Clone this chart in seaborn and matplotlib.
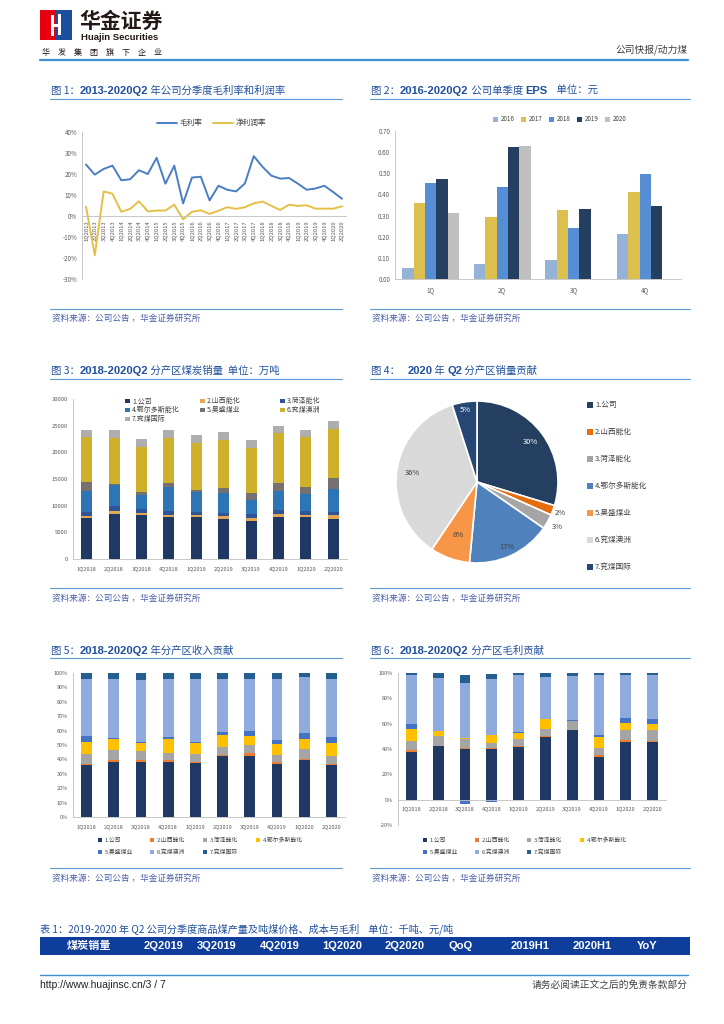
import numpy as np
import pandas as pd
import matplotlib
matplotlib.use('Agg')
import matplotlib.pyplot as plt
import seaborn as sns
from matplotlib.patches import Rectangle
from matplotlib.lines import Line2D

W, H = 724, 1024
CJK = 'Noto Sans CJK SC'
LATIN = 'Liberation Sans'
BLUE = '#1F4F9F'
LINE_BLUE = '#5B9BD5'

# ---- data: 图1 毛利率 / 净利润率 (%)
quarters_13 = ['1Q2013', '2Q2013', '3Q2013', '4Q2013', '1Q2014', '2Q2014', '3Q2014', '4Q2014',
               '1Q2015', '2Q2015', '3Q2015', '4Q2015', '1Q2016', '2Q2016', '3Q2016', '4Q2016',
               '1Q2017', '2Q2017', '3Q2017', '4Q2017', '1Q2018', '2Q2018', '3Q2018', '4Q2018',
               '1Q2019', '2Q2019', '3Q2019', '4Q2019', '1Q2020', '2Q2020']
gross_margin = [24.5, 19.7, 22.4, 24.0, 17.0, 17.5, 21.8, 20.0, 27.7, 15.4, 24.0, 6.0, 18.3, 18.7, 7.4,
                14.4, 12.5, 11.7, 15.5, 28.5, 23.4, 19.2, 17.8, 18.1, 15.4, 12.5, 13.1, 14.4, 11.4, 8.2]
net_margin = [4.5, -18.7, 11.7, 10.6, 2.0, 3.4, 7.0, 2.2, 2.6, 2.6, 5.4, -1.6, 2.0, 2.7, 1.0,
              2.5, 4.2, 3.4, 4.2, 6.0, 6.9, 4.8, 2.9, 5.4, 4.8, 5.1, 3.5, 3.5, 3.5, 4.6]

# ---- data: 图2 单季度EPS (元)
eps_quarters = ['1Q', '2Q', '3Q', '4Q']
eps_years = ['2016', '2017', '2018', '2019', '2020']
eps_2016 = [0.05, 0.07, 0.09, 0.215]
eps_2017 = [0.36, 0.295, 0.325, 0.41]
eps_2018 = [0.455, 0.435, 0.24, 0.495]
eps_2019 = [0.475, 0.625, 0.33, 0.345]
eps_2020 = [0.31, 0.63]

# ---- data: 图3 分产区煤炭销量 (万吨)
quarters_18 = ['1Q2018', '2Q2018', '3Q2018', '4Q2018', '1Q2019', '2Q2019', '3Q2019', '4Q2019', '1Q2020', '2Q2020']
regions = ['1.公司', '2.山西能化', '3.菏泽能化', '4.鄂尔多斯能化', '5.昊盛煤业', '6.兖煤澳洲', '7.兖煤国际']
vol_1 = [7600, 8440, 8190, 7880, 7880, 7500, 7190, 7940, 7940, 7560]
vol_2 = [400, 500, 500, 370, 310, 560, 560, 435, 250, 690]
vol_3 = [880, 940, 750, 690, 690, 630, 625, 815, 810, 560]
vol_4 = [3900, 4060, 2560, 4560, 3750, 3750, 2690, 3560, 3190, 4315]
vol_5 = [1700, 190, 560, 750, 250, 810, 1380, 1440, 1370, 2125]
vol_6 = [8380, 8630, 8380, 8380, 8940, 9060, 8370, 9370, 9250, 9125]
vol_7 = [1380, 1380, 1560, 1500, 1440, 1440, 1500, 1440, 1380, 1435]

# ---- data: 图4 2020Q2 销量贡献 (%)
pie_pct = [30, 2, 3, 17, 8, 36, 5]

# ---- data: 图5 收入贡献 (%)
rev_1 = [35.9, 38.4, 38.4, 38.4, 37.7, 42.1, 42.6, 37.0, 39.8, 35.9]
rev_2 = [1.1, 1.4, 1.4, 1.4, 0.7, 1.0, 1.6, 1.0, 0.7, 0.7]
rev_3 = [7.0, 7.0, 6.3, 4.9, 5.6, 5.7, 6.0, 5.3, 7.0, 6.0]
rev_4 = [8.3, 7.1, 5.1, 9.5, 7.6, 8.4, 5.8, 7.4, 6.7, 8.6]
rev_5 = [4.2, 0.7, 1.1, 1.6, 0.7, 2.1, 4.0, 3.0, 4.1, 4.6]
rev_6 = [39.6, 41.5, 42.6, 40.3, 43.8, 36.8, 36.1, 42.4, 38.7, 40.0]
rev_7 = [3.9, 3.9, 5.1, 3.9, 3.9, 3.9, 3.9, 3.9, 3.0, 4.2]

# ---- data: 图6 毛利贡献 (%)
gp_1 = [37.9, 42.1, 40.0, 40.0, 41.3, 49.3, 54.7, 33.9, 45.9, 45.9]
gp_2 = [1.0, 0.6, 1.1, 0.5, 0.8, 0.8, 0.3, 1.0, 1.0, 0.8]
gp_3 = [7.8, 7.2, 6.6, 4.0, 5.6, 5.9, 7.1, 5.6, 7.8, 8.0]
gp_4 = [8.8, 4.0, 1.1, 6.4, 4.6, 7.5, 0.0, 8.8, 6.1, 5.3]
gp_5 = [4.5, 0.0, -3.5, -2.0, 1.0, 0.2, 0.6, 1.9, 3.7, 4.0]
gp_6 = [38.1, 42.4, 43.7, 44.0, 44.8, 33.1, 34.6, 46.9, 33.6, 34.1]
gp_7 = [1.9, 3.4, 5.6, 4.6, 1.9, 3.2, 2.7, 1.9, 1.9, 1.9]

# ---- data: 表1 表头
table_cols = ['煤炭销量', '2Q2019', '3Q2019', '4Q2019', '1Q2020', '2Q2020', 'QoQ', '2019H1', '2020H1', 'YoY']

# colours
C_LINES = ['#4A7EC4', '#E4C045']
C_EPS = ['#95B3D7', '#DDBF4E', '#558ED5', '#243F60', '#BFBFBF']
C_VOL = ['#1F3864', '#E3A652', '#2F5597', '#2E75B6', '#767171', '#CFB02B', '#AEAEAE']
C_PIE = ['#243F60', '#E46C0A', '#A5A5A5', '#4F81BD', '#F79646', '#D9D9D9', '#264673']
C_SHARE = ['#1F3864', '#ED7D31', '#A5A5A5', '#FFC000', '#4472C4', '#8FAADC', '#255E91']

sns.set_theme(style='white')
plt.rcParams['font.family'] = [CJK, 'DejaVu Sans']
plt.rcParams['axes.unicode_minus'] = False

fig = plt.figure(figsize=(W / 100, H / 100), dpi=100)
fig.patch.set_facecolor('white')
renderer = fig.canvas.get_renderer()


def fx(x):
    return x / W


def fy(y):
    return 1 - y / H


def add_ax(x0, y0, x1, y1):
    return fig.add_axes([x0 / W, 1 - y1 / H, (x1 - x0) / W, (y1 - y0) / H])


def hline(x0, x1, y, color=LINE_BLUE, lw=0.8):
    fig.add_artist(Line2D([fx(x0), fx(x1)], [fy(y), fy(y)], color=color, linewidth=lw))


def rect(x0, y0, x1, y1, color):
    fig.patches.append(Rectangle((fx(x0), fy(y1)), (x1 - x0) / W, (y1 - y0) / H,
                                 transform=fig.transFigure, color=color, linewidth=0))


def title(x, y, parts):
    # y is the baseline, parts are (text, latin_bold)
    for s, bold in parts:
        if bold:
            t = fig.text(fx(x), fy(y), s, fontsize=8, fontweight='bold', family=[LATIN, 'DejaVu Sans'],
                         color=BLUE, va='baseline')
        else:
            t = fig.text(fx(x), fy(y), s, fontsize=7.5, family=[CJK, 'DejaVu Sans'], color=BLUE, va='baseline')
        x += t.get_window_extent(renderer=renderer).width


def source(x, y):
    fig.text(fx(x), fy(y), '资料来源：公司公告 ，华金证券研究所', fontsize=6.2, color='#4A5FA8', va='center')


def square_legend(labels, colors, xs, ys, size, fs):
    for lab, col, x, y in zip(labels, colors, xs, ys):
        rect(x, y - size / 2, x + size, y + size / 2, col)
        fig.text(fx(x + size + 2.5), fy(y), lab, fontsize=fs, color='#404040', va='center')


def clean(ax, size=4.5):
    sns.despine(ax=ax, top=True, right=True)
    for s in ('left', 'bottom'):
        ax.spines[s].set_color('#BFBFBF')
        ax.spines[s].set_linewidth(0.6)
    ax.tick_params(labelsize=size, colors='#595959', length=2, width=0.5, pad=1.5)
    ax.set_xlabel('')
    ax.set_ylabel('')
    ax.set_facecolor('none')


def stacked(ax, cats, series, colors, width=0.4):
    cum = np.cumsum(np.array(series, dtype=float), axis=0)
    for i in range(len(series) - 1, -1, -1):
        sns.barplot(x=cats, y=cum[i], color=colors[i], width=width, saturation=1,
                    errorbar=None, linewidth=0, ax=ax)


# ---------------- header ----------------
rect(40, 10, 56, 40, '#E60012')
rect(56, 10, 72, 40, '#1D4E9E')
rect(51, 15, 54, 36, 'white')
rect(58, 14, 61, 35, 'white')
rect(54, 24, 58, 26.5, 'white')
fig.text(fx(79), fy(21), '华金证券', fontsize=15, fontweight='bold', family=[CJK], va='center', color='#231815')
fig.text(fx(81), fy(37), 'Huajin Securities', fontsize=6.8, fontweight='bold', family=[LATIN],
         va='center', color='#231815')
fig.text(fx(42), fy(52), '华\u3000发\u3000集\u3000团\u3000旗\u3000下\u3000企\u3000业', fontsize=5.8,
         va='center', color='#231815')
fig.text(fx(688), fy(50), '公司快报/动力煤', fontsize=7, ha='right', va='center', color='#404040')
hline(40, 688, 59.5, color='#3D8FD1', lw=1.6)

# ---------------- titles, rules, sources ----------------
title(51, 94, [('图 1：', False), ('2013-2020Q2', True), (' 年公司分季度毛利率和利润率', False)])
title(371, 94, [('图 2：', False), ('2016-2020Q2', True), (' 公司单季度 ', False), ('EPS', True),
                ('    单位：元', False)])
title(51, 374, [('图 3：', False), ('2018-2020Q2', True), (' 分产区煤炭销量  单位：万吨', False)])
title(371, 374, [('图 4：   ', False), ('2020', True), (' 年 ', False), ('Q2', True), (' 分产区销量贡献', False)])
title(51, 654, [('图 5：', False), ('2018-2020Q2', True), (' 年分产区收入贡献', False)])
title(371, 654, [('图 6：', False), ('2018-2020Q2', True), (' 分产区毛利贡献', False)])
for y in (99, 379, 658):
    hline(50, 342, y)
    hline(370, 690, y)
for y in (309, 588, 868):
    hline(50, 342, y)
    hline(370, 690, y)
for y in (318, 598, 878):
    source(52, y)
    source(372, y)

# ---------------- 图1 ----------------
ax1 = add_ax(82, 132, 346, 279)
x13 = np.arange(len(quarters_13))
sns.lineplot(x=x13, y=gross_margin, color=C_LINES[0], linewidth=1.4, ax=ax1)
sns.lineplot(x=x13, y=net_margin, color=C_LINES[1], linewidth=1.4, ax=ax1)
clean(ax1)
ax1.set_xlim(-0.45, 29.45)
ax1.set_ylim(-30, 40)
ax1.set_yticks(range(-30, 41, 10))
ax1.set_yticklabels([f'{v}%' for v in range(-30, 41, 10)])
ax1.spines['bottom'].set_position(('data', 0))
ax1.set_xticks(x13)
ax1.set_xticklabels(quarters_13, rotation=90, fontsize=4.2)
for (x0, lab), col in zip([(157, '毛利率'), (213, '净利润率')], C_LINES):
    fig.add_artist(Line2D([fx(x0), fx(x0 + 20)], [fy(123), fy(123)], color=col, linewidth=1.4))
    fig.text(fx(x0 + 23), fy(123), lab, fontsize=5.5, color='#404040', va='center')

# ---------------- 图2 ----------------
ax2 = add_ax(395, 131, 681, 279)
eps_rows = []
for yr, vals in zip(eps_years, [eps_2016, eps_2017, eps_2018, eps_2019, eps_2020]):
    for q, v in zip(eps_quarters, vals):
        eps_rows.append({'季度': q, '年份': yr, 'EPS': v})
eps_df = pd.DataFrame(eps_rows)
sns.barplot(data=eps_df, x='季度', y='EPS', hue='年份', order=eps_quarters, hue_order=eps_years,
            palette=C_EPS, saturation=1, width=0.8, errorbar=None, linewidth=0, legend=False, ax=ax2)
clean(ax2)
ax2.set_ylim(0, 0.7)
ax2.set_yticks(np.arange(0, 0.71, 0.1))
ax2.set_yticklabels([f'{v:.2f}' for v in np.arange(0, 0.71, 0.1)])
ax2.tick_params(axis='x', length=0, pad=5)
square_legend(eps_years, C_EPS, [493, 521, 549, 577, 605], [119] * 5, 5, 4.5)

# ---------------- 图3 ----------------
ax3 = add_ax(73, 399, 347, 559)
stacked(ax3, quarters_18, [vol_1, vol_2, vol_3, vol_4, vol_5, vol_6, vol_7], C_VOL)
clean(ax3, 4.2)
ax3.set_ylim(0, 30000)
ax3.set_yticks(range(0, 30001, 5000))
ax3.set_yticklabels([str(v) for v in range(0, 30001, 5000)])
ax3.tick_params(axis='x', labelsize=4, pad=3)
square_legend(regions, C_VOL, [125, 200, 280, 125, 200, 280, 125], [401, 401, 401, 410, 410, 410, 419], 4.5, 5)

# ---------------- 图4 ----------------
ax4 = add_ax(396, 401, 558, 563)
wedges, _ = ax4.pie(pie_pct, colors=C_PIE, startangle=90, counterclock=False,
                    wedgeprops=dict(edgecolor='white', linewidth=1.2))
ax4.set_xlim(-1, 1)
ax4.set_ylim(-1, 1)
label_r = [0.82, 1.1, 1.14, 0.88, 0.7, 0.8, 0.9]
label_c = ['white', '#404040', '#404040', '#404040', '#404040', '#404040', 'white']
for w, v, r, c in zip(wedges, pie_pct, label_r, label_c):
    ang = np.deg2rad((w.theta1 + w.theta2) / 2)
    ax4.text(r * np.cos(ang), r * np.sin(ang), f'{v}%', fontsize=5.5, color=c, ha='center', va='center')
square_legend(regions, C_PIE, [587] * 7, [405 + 27 * i for i in range(7)], 5.5, 5.5)

# ---------------- 图5 ----------------
ax5 = add_ax(73, 673, 345, 817)
stacked(ax5, quarters_18, [rev_1, rev_2, rev_3, rev_4, rev_5, rev_6, rev_7], C_SHARE)
clean(ax5, 4)
ax5.set_ylim(0, 100)
ax5.set_yticks(range(0, 101, 10))
ax5.set_yticklabels([f'{v}%' for v in range(0, 101, 10)])
ax5.tick_params(axis='x', pad=3)
square_legend(regions, C_SHARE, [98, 150, 203, 256, 98, 150, 203], [840] * 4 + [852] * 3, 4, 4.2)

# ---------------- 图6 ----------------
ax6 = add_ax(398, 673, 666, 825)
gp_series = [gp_1, gp_2, gp_3, gp_4, gp_5, gp_6, gp_7]
stacked(ax6, quarters_18, [np.clip(s, 0, None) for s in gp_series], C_SHARE)
sns.barplot(x=quarters_18, y=np.clip(gp_5, None, 0), color=C_SHARE[4], width=0.4, saturation=1,
            errorbar=None, linewidth=0, ax=ax6)
clean(ax6, 4)
ax6.set_ylim(-20, 100)
ax6.set_yticks(range(-20, 101, 20))
ax6.set_yticklabels([f'{v}%' for v in range(-20, 101, 20)])
ax6.spines['bottom'].set_position(('data', 0))
ax6.tick_params(axis='x', pad=3)
square_legend(regions, C_SHARE, [423, 475, 527, 580, 423, 475, 527], [840] * 4 + [852] * 3, 4, 4.2)

# ---------------- 表1 ----------------
fig.text(fx(40), fy(929), '表 1：2019-2020 年 Q2 公司分季度商品煤产量及吨煤价格、成本与毛利    单位：千吨、元/吨',
         fontsize=7.3, color=BLUE, va='center')
rect(40, 937, 690, 955, '#0F3D9B')
col_x = [89, 163, 217, 280, 342, 405, 461, 530, 592, 647]
for cx, lab in zip(col_x, table_cols):
    fam = [CJK] if lab == '煤炭销量' else [LATIN, 'DejaVu Sans']
    fig.text(fx(cx), fy(946), lab, fontsize=8, fontweight='bold', family=fam, color='white',
             ha='center', va='center')

# ---------------- footer ----------------
hline(40, 688, 975, color='#3D8FD1', lw=1.0)
fig.text(fx(40), fy(985), 'http://www.huajinsc.cn/3 / 7', fontsize=7.5, family=[LATIN], color='#222222', va='center')
fig.text(fx(688), fy(985), '请务必阅读正文之后的免责条款部分', fontsize=7, color='#404040', ha='right', va='center')

fig.savefig('out.png', dpi=100, facecolor='white')
